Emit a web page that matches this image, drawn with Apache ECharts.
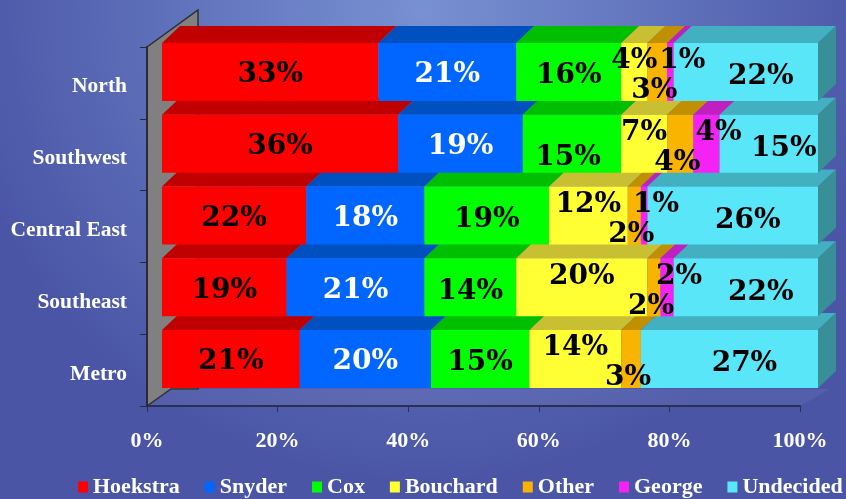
<!DOCTYPE html>
<html>
<head>
<meta charset="utf-8">
<title>Poll by region</title>
<script src="https://cdn.jsdelivr.net/npm/echarts@6/dist/echarts.min.js"></script>
<style>
  html, body { margin: 0; padding: 0; }
  #main { width: 846px; height: 499px; }
</style>
</head>
<body>
<div id="main"></div>
<script>
// regions, bottom to top as drawn
const regions = ['Metro', 'Southeast', 'Central East', 'Southwest', 'North'];
const candidates = ['Hoekstra', 'Snyder', 'Cox', 'Bouchard', 'Other', 'George', 'Undecided'];

// percentages per candidate, same order as regions
const hoekstra = [21, 19, 22, 36, 33];
const snyder = [20, 21, 18, 19, 21];
const cox = [15, 14, 19, 15, 16];
const bouchard = [14, 20, 12, 7, 4];
const other = [3, 2, 2, 4, 3];
const george = [0, 2, 1, 4, 1];
const undecided = [27, 22, 26, 15, 22];

const xTicks = [0, 20, 40, 60, 80, 100];

const seriesValues = [hoekstra, snyder, cox, bouchard, other, george, undecided];

// styling
const frontColors = ['#ff0000', '#0066ff', '#00ff00', '#ffff33', '#f8b400', '#f522f5', '#58e6f8'];
const topColors = ['#c00000', '#0050c0', '#00be00', '#c8c032', '#c09000', '#c020c0', '#42b0c0'];
const sideColor = '#388f98';
const labelColors = ['#000', '#fff', '#000', '#000', '#000', '#000', '#000'];
const labelOffsets = [[0, 3], [0, 3], [0, 4], [0, -11], [-3, 19], [12, -11], [15, 5]];
// a label that Excel pushed down to make room (Cox, Southwest)
const labelNudge = { '2-3': [-4, 14] };
const barH = 58;
const depth = [18, 17];

const chart = echarts.init(document.getElementById('main'));

// top faces (and the right side face) of every segment, drawn under the fronts
const faceData = [];
regions.forEach(function (r, ci) {
  let acc = 0;
  seriesValues.forEach(function (vals, si) {
    const v = vals[ci];
    if (v > 0) faceData.push([acc, acc + v, ci, si]);
    acc += v;
  });
});

function renderFaces(params, api) {
  const start = api.value(0), end = api.value(1), ci = api.value(2), si = api.value(3);
  const a = api.coord([start, ci]);
  const b = api.coord([end, ci]);
  const yTop = a[1] - barH / 2;
  const children = [{
    type: 'polygon',
    shape: { points: [[a[0], yTop], [b[0], yTop], [b[0] + depth[0], yTop - depth[1]], [a[0] + depth[0], yTop - depth[1]]] },
    style: { fill: topColors[si] }
  }];
  if (si === candidates.length - 1) {
    children.push({
      type: 'polygon',
      shape: { points: [[b[0], yTop], [b[0] + depth[0], yTop - depth[1]], [b[0] + depth[0], yTop - depth[1] + barH], [b[0], yTop + barH]] },
      style: { fill: sideColor }
    });
  }
  return { type: 'group', children: children };
}

const series = candidates.map(function (name, si) {
  return {
    name: name,
    type: 'bar',
    stack: 'total',
    xAxisIndex: 1,
    yAxisIndex: 1,
    barWidth: barH,
    z: 3,
    itemStyle: { color: frontColors[si] },
    label: {
      show: true,
      position: 'inside',
      offset: labelOffsets[si],
      color: labelColors[si],
      fontFamily: 'DejaVu Serif',
      fontWeight: 'bold',
      fontSize: 28,
      formatter: function (p) { return p.value > 0 ? p.value + '%' : ''; }
    },
    emphasis: { disabled: true },
    data: seriesValues[si].map(function (v, ci) {
      const nudge = labelNudge[si + '-' + ci];
      return nudge ? { value: v, label: { offset: nudge } } : v;
    })
  };
});

series.push({
  type: 'custom',
  name: 'faces',
  xAxisIndex: 1,
  yAxisIndex: 1,
  z: 2,
  silent: true,
  renderItem: renderFaces,
  encode: { x: [0, 1], y: 2 },
  data: faceData
});

const axisFont = { color: '#fff', fontFamily: 'Liberation Serif', fontWeight: 'bold' };

const option = {
  animation: false,
  backgroundColor: new echarts.graphic.RadialGradient(0.5, 0.02, 0.95, [
    { offset: 0, color: '#7891d2' },
    { offset: 1, color: '#4a55a6' }
  ]),
  legend: {
    data: candidates,
    left: 78,
    top: 476,
    padding: 0,
    itemWidth: 10,
    itemHeight: 11,
    itemGap: 25,
    icon: 'rect',
    textStyle: Object.assign({ fontSize: 22 }, axisFont)
  },
  graphic: [
    {
      // back wall
      type: 'polygon',
      z: -1,
      shape: { points: [[147, 47], [198, 10], [198, 389], [171, 389], [147, 406]] },
      style: { fill: '#808080', stroke: '#2c2c34', lineWidth: 1.5 }
    },
    {
      // floor
      type: 'polygon',
      z: -1,
      shape: { points: [[147, 406], [171, 389], [830, 389], [800, 406]] },
      style: { fill: 'rgba(255,255,255,0.06)' }
    }
  ],
  grid: [
    { left: 147, right: 46, top: 47, bottom: 93 },
    { left: 162, right: 28, top: 36, bottom: 104 }
  ],
  xAxis: [
    {
      type: 'value', gridIndex: 0, min: xTicks[0], max: xTicks[xTicks.length - 1], interval: 20,
      axisLine: { show: true, lineStyle: { color: '#2a3050', width: 2 } },
      axisTick: { show: true, length: 6, lineStyle: { color: '#2a3050' } },
      splitLine: { show: false },
      axisLabel: Object.assign({ fontSize: 22, margin: 24, formatter: '{value}%' }, axisFont)
    },
    { type: 'value', gridIndex: 1, min: 0, max: 100, show: false }
  ],
  yAxis: [
    {
      type: 'category', gridIndex: 0, data: regions, z: 3,
      axisLine: { show: true, lineStyle: { color: '#2a2a36', width: 2 } },
      axisTick: { show: true, length: 7, lineStyle: { color: '#2a2a36' } },
      axisLabel: Object.assign({ fontSize: 21.5, margin: 20, verticalAlign: 'top', lineHeight: 8 }, axisFont)
    },
    { type: 'category', gridIndex: 1, data: regions, show: false }
  ],
  series: series
};

chart.setOption(option);
</script>
</body>
</html>
